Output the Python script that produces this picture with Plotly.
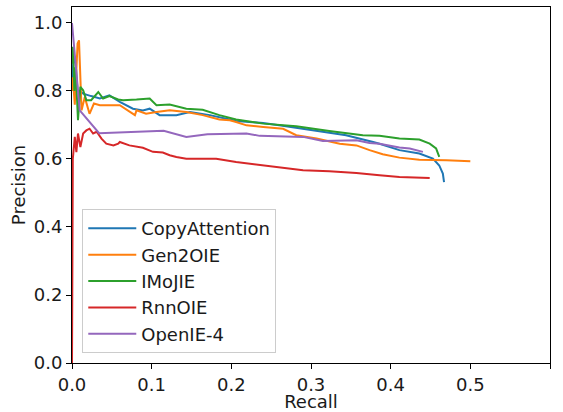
import plotly.graph_objects as go

# ---- data ----
copy_r = [0.0, 0.0015, 0.004, 0.007, 0.010, 0.014, 0.024, 0.035, 0.047, 0.060, 0.0765, 0.089, 0.0975, 0.110,
          0.131, 0.148, 0.173, 0.190, 0.198, 0.206, 0.240, 0.260, 0.302, 0.344, 0.378, 0.386, 0.411, 0.436,
          0.453, 0.461, 0.4655, 0.467]
copy_p = [0.82, 0.88, 0.90, 0.80, 0.80, 0.792, 0.785, 0.778, 0.787, 0.768, 0.748, 0.743, 0.748, 0.729,
          0.729, 0.738, 0.729, 0.719, 0.716, 0.712, 0.706, 0.699, 0.684, 0.670, 0.650, 0.645, 0.626, 0.616,
          0.601, 0.581, 0.557, 0.532]

gen_r = [0.0, 0.001, 0.0035, 0.007, 0.0088, 0.0105, 0.012, 0.0160, 0.022, 0.0275, 0.035, 0.060, 0.079, 0.081,
         0.093, 0.106, 0.1226, 0.1435, 0.164, 0.185, 0.198, 0.206, 0.219, 0.240, 0.265, 0.2815, 0.307, 0.336,
         0.357, 0.3735, 0.390, 0.411, 0.436, 0.470, 0.500]
gen_p = [0.80, 0.84, 0.76, 0.94, 0.949, 0.81, 0.743, 0.782, 0.733, 0.763, 0.758, 0.758, 0.729, 0.743,
         0.733, 0.738, 0.743, 0.738, 0.729, 0.716, 0.714, 0.709, 0.699, 0.694, 0.689, 0.670, 0.660, 0.645,
         0.640, 0.626, 0.614, 0.604, 0.598, 0.596, 0.593]

imo_r = [0.0, 0.0012, 0.003, 0.0045, 0.0075, 0.0105, 0.014, 0.018, 0.024, 0.033, 0.039, 0.047, 0.058, 0.064,
         0.081, 0.0975, 0.106, 0.1226, 0.1435, 0.164, 0.185, 0.206, 0.240, 0.2815, 0.323, 0.365, 0.386,
         0.411, 0.436, 0.449, 0.457, 0.461]
imo_p = [0.88, 0.93, 0.80, 0.87, 0.714, 0.812, 0.802, 0.773, 0.773, 0.797, 0.778, 0.785, 0.775, 0.773,
         0.775, 0.778, 0.758, 0.760, 0.748, 0.745, 0.729, 0.716, 0.704, 0.696, 0.682, 0.670, 0.668,
         0.660, 0.657, 0.645, 0.631, 0.606]

rnn_r = [0.0, 0.0003, 0.001, 0.0035, 0.0055, 0.0075, 0.0105, 0.014, 0.018, 0.022, 0.0265, 0.031, 0.037,
         0.043, 0.052, 0.058, 0.060, 0.072, 0.089, 0.1016, 0.114, 0.1226, 0.131, 0.1435, 0.164, 0.181,
         0.206, 0.231, 0.260, 0.290, 0.323, 0.357, 0.386, 0.411, 0.449]
rnn_p = [0.0, 0.54, 0.60, 0.665, 0.62, 0.675, 0.635, 0.675, 0.684, 0.689, 0.675, 0.680, 0.660,
         0.645, 0.640, 0.645, 0.650, 0.640, 0.633, 0.621, 0.619, 0.611, 0.606, 0.601, 0.601, 0.601,
         0.591, 0.584, 0.576, 0.567, 0.564, 0.559, 0.552, 0.547, 0.544]

oie_r = [0.0, 0.0097, 0.034, 0.115, 0.1435, 0.170, 0.219, 0.2355, 0.290, 0.315, 0.357, 0.3735, 0.386,
         0.411, 0.424, 0.4405]
oie_p = [1.0, 0.743, 0.676, 0.683, 0.665, 0.673, 0.675, 0.668, 0.665, 0.653, 0.655, 0.647, 0.645,
         0.634, 0.631, 0.621]

names = ["CopyAttention", "Gen2OIE", "IMoJIE", "RnnOIE", "OpenIE-4"]
colors = ["#1f77b4", "#ff7f0e", "#2ca02c", "#d62728", "#9467bd"]
series = [(copy_r, copy_p), (gen_r, gen_p), (imo_r, imo_p), (rnn_r, rnn_p), (oie_r, oie_p)]

x_ticks = [0.0, 0.1, 0.2, 0.3, 0.4, 0.5, 0.6]
y_ticks = [0.0, 0.2, 0.4, 0.6, 0.8, 1.0]

fig = go.Figure()
for name, col, (r, p) in zip(names, colors, series):
    fig.add_trace(go.Scatter(x=r, y=p, mode="lines", name=name,
                             line=dict(color=col, width=2)))

font = dict(family="DejaVu Sans", size=18, color="#1a1a1a")
axis_common = dict(showgrid=False, zeroline=False, showline=True, linecolor="black", linewidth=1,
                   mirror=True, ticks="outside", ticklen=5, tickcolor="black", tickwidth=1,
                   tickfont=font, automargin=False)
fig.update_layout(
    width=563, height=412,
    margin=dict(l=72, r=13, t=7, b=49),
    paper_bgcolor="white", plot_bgcolor="white",
    font=font,
    xaxis=dict(range=[0, 0.6], tickvals=x_ticks, ticktext=[f"{v:.1f}" for v in x_ticks],
               title=dict(text="Recall", font=font, standoff=0), **axis_common),
    yaxis=dict(range=[0, 1.047], tickvals=y_ticks, ticktext=[f"{v:.1f}" for v in y_ticks],
               title=dict(text="Precision", font=font, standoff=3), **axis_common),
    legend=dict(x=0.0215, y=0.028, xanchor="left", yanchor="bottom",
                bgcolor="rgba(255,255,255,0.8)", bordercolor="#cccccc", borderwidth=1,
                font=font, itemwidth=48),
    showlegend=True,
)
fig.write_html("out.html", config={"displayModeBar": False},
               post_script="document.body.style.margin='0';document.body.style.overflow='hidden';")
